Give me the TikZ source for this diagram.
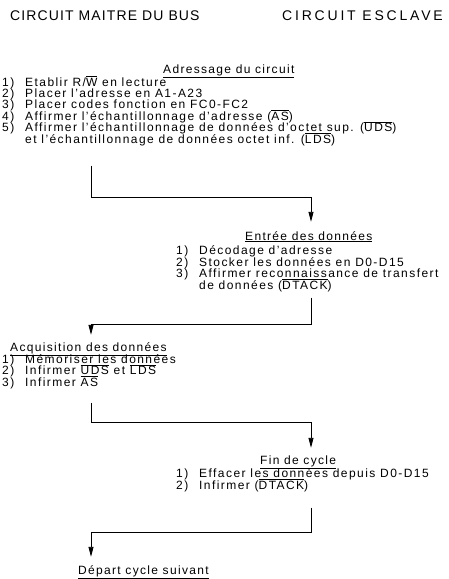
\documentclass[tikz,border=0pt]{standalone}
\usepackage{fontspec}
\setmainfont{Liberation Sans}[LetterSpace=12.0]
\usetikzlibrary{arrows.meta,positioning}

\newcommand\barre[1]{$\overline{\mbox{#1}}$}
\newcommand\num[1]{\makebox[23pt][l]{#1}}
\newcommand\serre{\lineskiplimit=-20pt\relax}

\tikzset{
  entete/.style={anchor=base west, inner sep=0pt, font=\fontsize{14}{14}\selectfont\addfontfeature{LetterSpace=8.0}},
  titre/.style={anchor=base west, inner sep=0pt, text height=9pt, text depth=3pt, font=\fontsize{12}{12}\selectfont\addfontfeature{LetterSpace=11.0}},
  liste/.style={anchor=base west, inner sep=0pt, align=left, font=\fontsize{12}{11.4}\selectfont\serre},
  fleche/.style={line width=0.9pt, line join=miter, -{Triangle[length=10pt,width=5pt]}}
}

\begin{document}
\begin{tikzpicture}[x=1pt, y=-1pt]
\useasboundingbox (0,0) rectangle (449,579);

% colonnes des fleches
\coordinate (colM) at (91,0);
\coordinate (colE) at (311,0);

% en-tetes
\node[entete] (maitre) at (10,20) {CIRCUIT MAITRE DU BUS};
\node[entete] (esclave) at (282,20) {\addfontfeature{LetterSpace=20.0}CIRCUIT ESCLAVE};

% Adressage du circuit (maitre) -- liste posee sur sa derniere ligne
\node[titre] (adresse) at (163,73) {\underline{Adressage du circuit}};
\node[liste] (adrliste) at (2,143) {%
  \num{1)}Etablir R/\barre{W} en lecture\\
  \num{2)}Placer l’adresse en A1-A23\\
  \num{3)}Placer codes fonction en FC0-FC2\\
  \num{4)}Affirmer l’échantillonnage d’adresse (\barre{AS})\\
  \num{5)}Affirmer l’échantillonnage de données d’octet sup. (\barre{UDS})\\
  \num{}et l’échantillonnage de données octet inf. (\barre{LDS})};

% Entree des donnees (esclave)
\node[titre] (entree) at (245,240) {\underline{Entrée des données}};
\node[liste] (entliste) at (176,289) {%
  \num{1)}Décodage d’adresse\\
  \num{2)}Stocker les données en D0-D15\\
  \num{3)}Affirmer reconnaissance de transfert\\
  \num{}de données (\barre{DTACK})};

% Acquisition des donnees (maitre)
\node[titre] (acquis) at (10,351) {\underline{Acquisition des données}};
\node[liste] (acqliste) at (2,386) {%
  \num{1)}Mémoriser les données\\
  \num{2)}Infirmer \barre{UDS} et \barre{LDS}\\
  \num{3)}Infirmer \barre{AS}};

% Fin de cycle (esclave)
\node[titre] (fin) at (260,464) {\underline{Fin de cycle}};
\node[liste] (finliste) at (176,489) {%
  \num{1)}Effacer les données depuis D0-D15\\
  \num{2)}Infirmer (\barre{DTACK})};

% Depart cycle suivant (maitre)
\node[titre] (depart) at (78,574) {\underline{Départ cycle suivant}};

% fleches
\draw[fleche] ([yshift=-20pt]adrliste.south -| colM) -- ++(0,32) -| ([yshift=9pt]entree.north -| colE);
\draw[fleche] ([yshift=-6pt]entliste.south -| colE) -- ++(0,27) -| ([yshift=7pt]acquis.north -| colM);
\draw[fleche] ([yshift=-14pt]acqliste.south -| colM) -- ++(0,20) -| ([yshift=7pt]fin.north -| colE);
\draw[fleche] ([yshift=-16pt]finliste.south -| colE) -- ++(0,25) -| ([yshift=8pt]depart.north -| colM);

\end{tikzpicture}
\end{document}
